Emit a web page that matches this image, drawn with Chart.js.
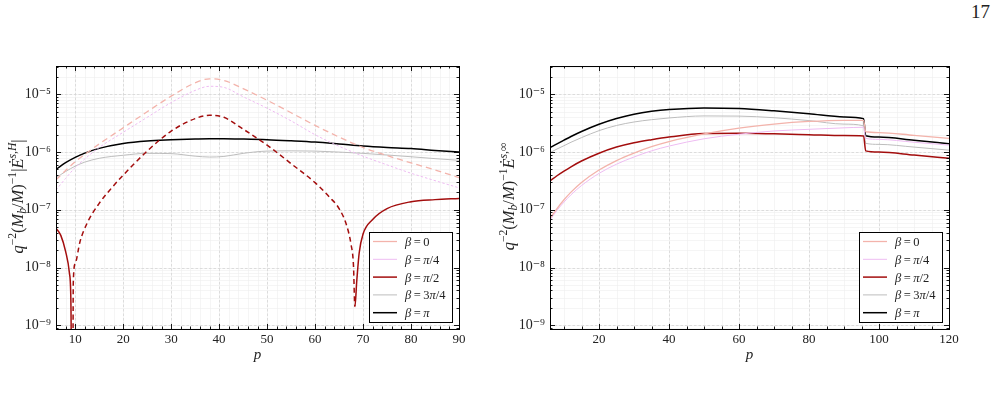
<!DOCTYPE html>
<html>
<head>
<meta charset="utf-8">
<script src="https://cdn.jsdelivr.net/npm/chart.js@4.4.1/dist/chart.umd.min.js"></script>
<style>
  html, body { margin: 0; padding: 0; background: #fff; }
  body { width: 997px; height: 405px; position: relative; overflow: hidden; font-family: "Liberation Serif", serif; }
  #wrapL { position: absolute; left: 0; top: 0; width: 490px; height: 405px; }
  #wrapR { position: absolute; left: 490px; top: 0; width: 507px; height: 405px; }
  #page { position: absolute; left: 971px; top: 1px; font-size: 19px; color: #222; }
</style>
</head>
<body>
<div id="page">17</div>
<div id="wrapL"><canvas id="left" width="490" height="405"></canvas></div>
<div id="wrapR"><canvas id="right" width="507" height="405"></canvas></div>
<script>
// ---- data -----------------------------------------------------------------
// left panel: horizon flux, signed (negative -> dashed)
const LEFT_P    = [6, 8, 10, 12, 15, 20, 25, 30, 35, 38, 41, 45, 50, 55, 60, 65, 70, 75, 80, 85, 90];
const LEFT_B0   = [-3.3e-7, -4.8e-7, -6.8e-7, -9.1e-7, -1.38e-6, -2.63e-6, -5.0e-6, -9.3e-6, -1.58e-5, -1.86e-5, -1.74e-5, -1.26e-5,
                   -7.9e-6, -4.8e-6, -2.9e-6, -1.82e-6, -1.2e-6, -8.7e-7, -6.5e-7, -4.9e-7, -3.6e-7];
const LEFT_B1   = [-2.2e-7, -3.5e-7, -5.4e-7, -7.6e-7, -1.2e-6, -2.2e-6, -4.0e-6, -7.2e-6, -1.17e-5, -1.38e-5, -1.32e-5, -9.1e-6,
                   -5.75e-6, -3.47e-6, -2.0e-6, -1.26e-6, -8.5e-7, -6.0e-7, -4.3e-7, -3.2e-7, -2.4e-7];
const LEFT_B3   = [3.6e-7, 4.6e-7, 5.7e-7, 6.7e-7, 7.8e-7, 8.8e-7, 9.5e-7, 9.4e-7, 8.5e-7, 8.2e-7, 8.4e-7, 9.5e-7,
                   1.04e-6, 1.05e-6, 1.04e-6, 1.0e-6, 9.5e-7, 8.9e-7, 8.3e-7, 7.7e-7, 7.2e-7];
const LEFT_B4   = [5.0e-7, 6.55e-7, 8.1e-7, 9.6e-7, 1.16e-6, 1.41e-6, 1.56e-6, 1.63e-6, 1.68e-6, 1.7e-6, 1.7e-6, 1.68e-6,
                   1.64e-6, 1.57e-6, 1.49e-6, 1.38e-6, 1.27e-6, 1.2e-6, 1.15e-6, 1.07e-6, 1.0e-6];
// beta = pi/2 changes sign twice, so it has its own abscissae
const LEFT_P2   = [6, 7, 8, 8.8, 9.1, 9.45, 9.6, 10, 11, 12.5, 15, 17.5, 20, 25, 30, 35, 38, 41, 45, 50, 55, 60, 63, 65,
                   66.5, 67.5, 68.0, 68.3, 68.7, 69.2, 70, 72, 75, 80, 85, 90];
const LEFT_B2   = [4.8e-8, 3.6e-8, 1.9e-8, 8e-9, 2.7e-9, 0, -5.4e-9, -1.17e-8, -2.8e-8, -5.9e-8, -1.29e-7, -2.34e-7, -3.98e-7,
                   -1.04e-6, -2.3e-6, -3.8e-6, -4.33e-6, -4.0e-6, -2.5e-6, -1.32e-6, -6.3e-7, -2.95e-7, -1.66e-7, -1.05e-7,
                   -5.6e-8, -2.5e-8, -1.1e-8, 2.1e-9, 6e-9, 1.8e-8, 3.8e-8, 6.8e-8, 1.05e-7, 1.38e-7, 1.5e-7, 1.57e-7];

// right panel: flux at infinity
const RIGHT_P   = [6, 8, 10, 12, 15, 20, 25, 30, 35, 40, 50, 60, 70, 80, 90, 95.6, 96.2, 100, 110, 120];
const RIGHT_B0  = [7.13e-8, 1.05e-7, 1.49e-7, 2.02e-7, 2.97e-7, 4.88e-7, 7.13e-7, 9.62e-7, 1.24e-6, 1.52e-6, 2.06e-6, 2.6e-6,
                   3.05e-6, 3.39e-6, 3.55e-6, 3.55e-6, 2.25e-6, 2.18e-6, 1.95e-6, 1.73e-6];
const RIGHT_B1  = [6.6e-8, 9.8e-8, 1.36e-7, 1.82e-7, 2.63e-7, 4.27e-7, 6.17e-7, 8.22e-7, 1.05e-6, 1.27e-6, 1.7e-6, 2.04e-6,
                   2.32e-6, 2.48e-6, 2.63e-6, 2.69e-6, 1.73e-6, 1.66e-6, 1.48e-6, 1.32e-6];
const RIGHT_B2  = [3.16e-7, 3.89e-7, 4.68e-7, 5.56e-7, 7.0e-7, 9.55e-7, 1.22e-6, 1.45e-6, 1.64e-6, 1.82e-6, 2.09e-6, 2.12e-6,
                   2.07e-6, 2.0e-6, 1.93e-6, 1.9e-6, 1.05e-6, 1.0e-6, 8.9e-7, 7.8e-7];
const RIGHT_B3  = [9.77e-7, 1.13e-6, 1.29e-6, 1.48e-6, 1.78e-6, 2.35e-6, 2.89e-6, 3.32e-6, 3.64e-6, 3.9e-6, 4.23e-6, 4.2e-6,
                   3.94e-6, 3.51e-6, 3.05e-6, 2.85e-6, 1.42e-6, 1.36e-6, 1.22e-6, 1.08e-6];
const RIGHT_B4  = [1.19e-6, 1.39e-6, 1.61e-6, 1.86e-6, 2.27e-6, 3.03e-6, 3.81e-6, 4.53e-6, 5.08e-6, 5.47e-6, 5.83e-6, 5.69e-6,
                   5.19e-6, 4.62e-6, 4.07e-6, 3.8e-6, 1.92e-6, 1.82e-6, 1.6e-6, 1.4e-6];

const LABELS    = ["β = 0", "β = π/4", "β = π/2", "β = 3π/4", "β = π"];
const LEFT_XTICKS  = [10, 20, 30, 40, 50, 60, 70, 80, 90];
const RIGHT_XTICKS = [20, 40, 60, 80, 100, 120];

// ---- styling ----------------------------------------------------------------
const COLORS = ["#f3b3ab", "#eebcf2", "#a30d0d", "#bdbdbd", "#000000"];
const WIDTHS = [1.3, 1.0, 1.5, 1.0, 1.5];
const NEG_DASH = [[6, 4], [2.5, 2], [5, 3.5], [5, 3], [5, 3]];
const FONT = '"Liberation Serif", "DejaVu Serif", serif';
const FLOOR = 1e-12; // zero crossings sit far below the visible range

Chart.defaults.font.family = FONT;
Chart.defaults.color = "#222";

function pts(ps, vs) { return ps.map((p, i) => ({ x: p, y: Math.max(Math.abs(vs[i]), FLOOR) })); }

function dataset(i, ps, vs) {
  const dash = NEG_DASH[i];
  return {
    label: LABELS[i],
    data: pts(ps, vs),
    borderColor: COLORS[i],
    borderWidth: WIDTHS[i],
    pointRadius: 0,
    fill: false,
    cubicInterpolationMode: "monotone",
    segment: {
      borderDash: c => (vs[c.p0DataIndex] < 0 || vs[c.p1DataIndex] < 0) ? dash : undefined,
    },
  };
}

// ---- rich text (super/subscripts, italics) -----------------------------------
function fontFor(kind, size) {
  const small = /sup|sub/.test(kind);
  const it = kind.endsWith("i");
  return `${it ? "italic " : ""}${small ? size * 0.7 : size}px ${FONT}`;
}
function shiftFor(kind, size) {
  if (kind.startsWith("sup")) return -size * 0.42;
  if (kind.startsWith("sub")) return size * 0.22;
  return 0;
}
function drawRich(ctx, parts, x, y, size, align) {
  let w = 0;
  const ws = parts.map(([t, k]) => { ctx.font = fontFor(k, size); const m = ctx.measureText(t).width; w += m; return m; });
  let cx = align === "center" ? x - w / 2 : x;
  ctx.textBaseline = "alphabetic";
  ctx.textAlign = "left";
  parts.forEach(([t, k], i) => {
    ctx.font = fontFor(k, size);
    ctx.fillText(t, cx, y + shiftFor(k, size));
    cx += ws[i];
  });
}
function labelParts(s) {
  return s.split(" ").map(tok => /[βπ]/.test(tok)
    ? tok.split(/([βπ])/).filter(Boolean).map(c => [c, /[βπ]/.test(c) ? "i" : "n"])
    : [[tok, "n"]]).reduce((a, b, i) => i ? a.concat([["\u2009", "n"]], b) : b, []);
}

const SUP = { "-": "\u207B", 0: "\u2070", 1: "\u00B9", 2: "\u00B2", 3: "\u00B3", 4: "\u2074", 5: "\u2075", 6: "\u2076", 7: "\u2077", 8: "\u2078", 9: "\u2079" };
function powLabel(v) {
  const e = Math.log10(v), r = Math.round(e);
  if (Math.abs(e - r) > 1e-6) return "";
  return "10" + String(r).split("").map(c => SUP[c]).join("");
}

// ---- plugins ---------------------------------------------------------------
const frame = {
  id: "frame",
  beforeDatasetsDraw(chart, args, o) {
    const { ctx, chartArea: a, scales: { x, y } } = chart;
    ctx.save();
    // minor grid
    ctx.lineWidth = 0.6;
    ctx.strokeStyle = "#efefef";
    ctx.beginPath();
    for (let v = Math.ceil(x.min / o.xMinor) * o.xMinor; v <= x.max; v += o.xMinor) {
      const px = Math.round(x.getPixelForValue(v)) + 0.5;
      ctx.moveTo(px, a.top); ctx.lineTo(px, a.bottom);
    }
    y.ticks.forEach(t => {
      const py = Math.round(y.getPixelForValue(t.value)) + 0.5;
      ctx.moveTo(a.left, py); ctx.lineTo(a.right, py);
    });
    ctx.stroke();
    // major grid, dashed
    ctx.strokeStyle = "#d6d6d6";
    ctx.lineWidth = 0.8;
    ctx.setLineDash([2.5, 2]);
    ctx.beginPath();
    x.ticks.forEach(t => {
      const px = Math.round(x.getPixelForValue(t.value)) + 0.5;
      ctx.moveTo(px, a.top); ctx.lineTo(px, a.bottom);
    });
    y.ticks.filter(t => powLabel(t.value)).forEach(t => {
      const py = Math.round(y.getPixelForValue(t.value)) + 0.5;
      ctx.moveTo(a.left, py); ctx.lineTo(a.right, py);
    });
    ctx.stroke();
    ctx.restore();
  },
  afterDatasetsDraw(chart, args, o) {
    const { ctx, chartArea: a, scales: { x, y } } = chart;
    ctx.save();
    ctx.strokeStyle = "#000";
    ctx.lineWidth = 0.9;
    ctx.beginPath();
    for (let v = Math.ceil(x.min / o.xMinor) * o.xMinor; v <= x.max; v += o.xMinor) {
      const px = Math.round(x.getPixelForValue(v)) + 0.5;
      const len = Math.abs(v / o.xMajor - Math.round(v / o.xMajor)) < 1e-6 ? 5 : 2.5;
      ctx.moveTo(px, a.bottom); ctx.lineTo(px, a.bottom - len);
      ctx.moveTo(px, a.top); ctx.lineTo(px, a.top + len);
    }
    y.ticks.forEach(t => {
      const py = Math.round(y.getPixelForValue(t.value)) + 0.5;
      const len = powLabel(t.value) ? 5 : 2.5;
      ctx.moveTo(a.left, py); ctx.lineTo(a.left + len, py);
      ctx.moveTo(a.right, py); ctx.lineTo(a.right - len, py);
    });
    ctx.stroke();
    ctx.lineWidth = 1;
    ctx.strokeRect(Math.round(a.left) + 0.5, Math.round(a.top) + 0.5, Math.round(a.right - a.left), Math.round(a.bottom - a.top));
    ctx.restore();
  },
};

const legendBox = {
  id: "legendBox",
  afterDatasetsDraw(chart) {
    const { ctx, chartArea: a } = chart;
    const w = 84, h = 91;
    const bx = Math.round(a.right - 6 - w), by = Math.round(a.bottom - 6 - h);
    ctx.save();
    ctx.fillStyle = "#fff";
    ctx.fillRect(bx, by, w, h);
    ctx.strokeStyle = "#000";
    ctx.lineWidth = 1;
    ctx.strokeRect(bx + 0.5, by + 0.5, w - 1, h - 1);
    chart.data.datasets.forEach((d, i) => {
      const ry = by + 9.5 + i * 17.8;
      ctx.setLineDash([]);
      ctx.strokeStyle = d.borderColor;
      ctx.lineWidth = d.borderWidth;
      ctx.beginPath();
      ctx.moveTo(bx + 4, ry); ctx.lineTo(bx + 28, ry);
      ctx.stroke();
      ctx.fillStyle = "#222";
      drawRich(ctx, labelParts(d.label), bx + 36, ry + 4.5, 12.5);
    });
    ctx.restore();
  },
};

const titles = {
  id: "titles",
  afterDraw(chart, args, o) {
    const { ctx, chartArea: a } = chart;
    ctx.save();
    ctx.fillStyle = "#222";
    drawRich(ctx, [["p", "i"]], (a.left + a.right) / 2, 359, 15, "center");
    ctx.translate(o.yTitleX, (a.top + a.bottom) / 2 - 1);
    ctx.rotate(-Math.PI / 2);
    drawRich(ctx, o.yTitle, 0, 5.5, 16.5, "center");
    ctx.restore();
  },
};

// ---- chart factory -----------------------------------------------------------
function makeChart(id, datasets, xmax, xticks, xMinor, xMajor, yWidth, padRight, yTitle, yTitleX) {
  return new Chart(document.getElementById(id), {
    type: "line",
    data: { datasets },
    plugins: [frame, legendBox, titles],
    options: {
      responsive: false,
      animation: false,
      layout: { padding: { top: 66, right: padRight, left: 0, bottom: 0 } },
      plugins: {
        legend: { display: false },
        tooltip: { enabled: false },
        frame: { xMinor, xMajor },
        titles: { yTitle, yTitleX },
      },
      scales: {
        x: {
          type: "linear",
          min: 6, max: xmax,
          bounds: "data",
          grid: { display: false, drawTicks: false },
          border: { display: false },
          afterBuildTicks: s => { s.ticks = xticks.map(v => ({ value: v })); },
          afterFit: s => { s.height = 76; },
          ticks: { autoSkip: false, maxRotation: 0, padding: 3, font: { size: 13 }, color: "#222" },
        },
        y: {
          type: "logarithmic",
          min: 8.6e-10, max: 3.1e-5,
          bounds: "data",
          grid: { display: false, drawTicks: false },
          border: { display: false },
          afterBuildTicks: s => {
            const t = [];
            for (let e = -10; e <= -5; e++) for (let m = 1; m <= 9; m++) {
              const v = m * Math.pow(10, e);
              if (v >= s.min && v <= s.max) t.push({ value: v });
            }
            s.ticks = t;
          },
          afterFit: s => { s.width = yWidth; },
          ticks: { autoSkip: false, padding: 5, font: { size: 14 }, color: "#222", callback: v => powLabel(v) },
        },
      },
    },
  });
}

const LEFT_TITLE = [["q", "i"], ["\u22122", "sup"], ["(", "n"], ["M", "i"], ["b", "subi"], ["/", "n"], ["M", "i"], [")", "n"],
                    ["\u22121", "sup"], ["|", "n"], ["\u0116", "i"], ["s,H", "supi"], ["|", "n"]];
const RIGHT_TITLE = [["q", "i"], ["\u22122", "sup"], ["(", "n"], ["M", "i"], ["b", "subi"], ["/", "n"], ["M", "i"], [")", "n"],
                     ["\u22121", "sup"], ["\u0116", "i"], ["s,\u221E", "supi"]];

makeChart("left", [
  dataset(0, LEFT_P, LEFT_B0),
  dataset(1, LEFT_P, LEFT_B1),
  dataset(2, LEFT_P2, LEFT_B2),
  dataset(3, LEFT_P, LEFT_B3),
  dataset(4, LEFT_P, LEFT_B4),
], 90, LEFT_XTICKS, 2, 10, 56, 31, LEFT_TITLE, 17);

makeChart("right", [
  dataset(0, RIGHT_P, RIGHT_B0),
  dataset(1, RIGHT_P, RIGHT_B1),
  dataset(2, RIGHT_P, RIGHT_B2),
  dataset(3, RIGHT_P, RIGHT_B3),
  dataset(4, RIGHT_P, RIGHT_B4),
], 120, RIGHT_XTICKS, 5, 20, 60, 48, RIGHT_TITLE, 18);
</script>
</body>
</html>
